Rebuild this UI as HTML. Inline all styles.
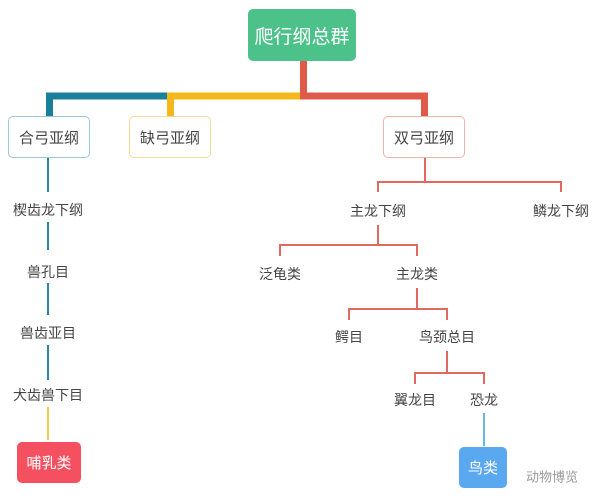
<!DOCTYPE html>
<html><head><meta charset="utf-8"><style>
body{margin:0;width:600px;height:499px;background:#fff;position:relative;overflow:hidden;font-family:"Liberation Sans","Noto Sans CJK SC",sans-serif}
.a{position:absolute}
.l{position:absolute;color:#444;font-size:14px;transform:translate(-50%,-50%);white-space:nowrap}
.box{position:absolute;box-sizing:border-box;border-radius:5px;display:flex;align-items:center;justify-content:center;font-size:15px;color:#444;background:#fff}
</style></head><body>
<svg class="a" style="left:0;top:0" width="600" height="499">
<g fill="none" stroke-linecap="butt">
<path d="M303.5 61V96" stroke="#e05a4a" stroke-width="7"/>
<path d="M49.5 116V96H167" stroke="#1a7f9a" stroke-width="7"/>
<path d="M170.5 116V96H303" stroke="#f5b81c" stroke-width="7"/>
<path d="M300 96H424.5V116" stroke="#e05a4a" stroke-width="7"/>
<g stroke="#e06a60" stroke-width="2">
<path d="M425 158V182M378 192V182H561V192"/>
<path d="M378 225V245M280 256V245H417V256"/>
<path d="M417 288V309M349 320V309H447V320"/>
<path d="M447 351V373M415 384V373H484V384"/>
</g>
<g stroke="#2a86a8" stroke-width="2">
<path d="M48 158V192M48 222V250M48 283V315M48 345V380"/>
</g>
<path d="M48 407V440" stroke="#f5c842" stroke-width="2"/>
<path d="M484 413V446" stroke="#6ab8e8" stroke-width="2"/>
</g></svg>
<div class="box" style="left:248px;top:9px;width:108px;height:52px;background:#4cc28a;color:#fff;font-size:19px">爬行纲总群</div>
<div class="box" style="left:8px;top:116px;width:82px;height:42px;border:1px solid #9cc8d6">合弓亚纲</div>
<div class="box" style="left:129px;top:116px;width:82px;height:42px;border:1px solid #f3dc96">缺弓亚纲</div>
<div class="box" style="left:383px;top:116px;width:82px;height:42px;border:1px solid #f0b4ae">双弓亚纲</div>
<div class="l" style="left:48px;top:210px">楔齿龙下纲</div>
<div class="l" style="left:48px;top:272px">兽孔目</div>
<div class="l" style="left:48px;top:333px">兽齿亚目</div>
<div class="l" style="left:48px;top:395px">犬齿兽下目</div>
<div class="box" style="left:17px;top:442px;width:64px;height:41px;background:#f5505f;color:#fff">哺乳类</div>
<div class="l" style="left:378px;top:211px">主龙下纲</div>
<div class="l" style="left:561px;top:211px">鳞龙下纲</div>
<div class="l" style="left:280px;top:274px">泛龟类</div>
<div class="l" style="left:417px;top:274px">主龙类</div>
<div class="l" style="left:349px;top:337px">鳄目</div>
<div class="l" style="left:447px;top:337px">鸟颈总目</div>
<div class="l" style="left:415px;top:400px">翼龙目</div>
<div class="l" style="left:484px;top:400px">恐龙</div>
<div class="box" style="left:459px;top:447px;width:48px;height:41px;background:#5aa8f0;color:#fff">鸟类</div>
<div class="l" style="left:552px;top:476px;color:#999;font-size:13px">动物博览</div>
</body></html>
